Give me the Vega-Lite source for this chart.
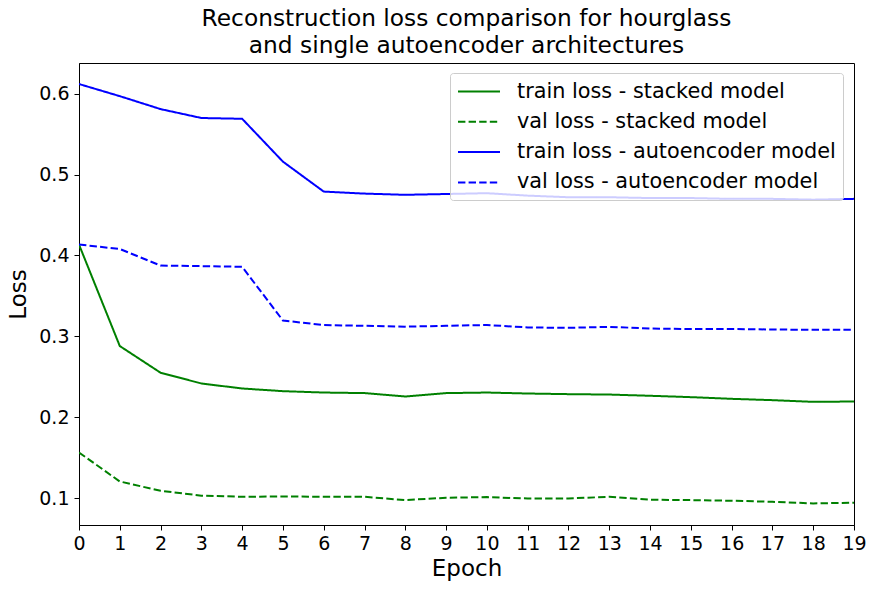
{
  "$schema": "https://vega.github.io/schema/vega-lite/v6.json",
  "width": 775,
  "height": 462,
  "autosize": {"type": "none"},
  "padding": {"left": 79, "top": 63, "right": 22, "bottom": 67},
  "background": "white",
  "config": {
    "font": "DejaVu Sans",
    "view": {"stroke": "black", "strokeWidth": 1},
    "axis": {"grid": false, "domainColor": "black", "tickColor": "black", "labelColor": "black", "titleColor": "black", "labelFont": "DejaVu Sans", "titleFont": "DejaVu Sans", "titleFontWeight": "normal", "tickSize": 5, "labelFontSize": 19, "titleFontSize": 23}
  },
  "title": {
    "text": ["Reconstruction loss comparison for hourglass", "and single autoencoder architectures"],
    "fontSize": 23.3,
    "fontWeight": "normal",
    "font": "DejaVu Sans",
    "color": "black",
    "lineHeight": 27,
    "offset": 5
  },
  "data": {
    "values": [
      {"epoch": 0, "series": "train loss - stacked model", "loss": 0.4135},
      {"epoch": 1, "series": "train loss - stacked model", "loss": 0.288},
      {"epoch": 2, "series": "train loss - stacked model", "loss": 0.255},
      {"epoch": 3, "series": "train loss - stacked model", "loss": 0.2417},
      {"epoch": 4, "series": "train loss - stacked model", "loss": 0.2355},
      {"epoch": 5, "series": "train loss - stacked model", "loss": 0.2322},
      {"epoch": 6, "series": "train loss - stacked model", "loss": 0.2305},
      {"epoch": 7, "series": "train loss - stacked model", "loss": 0.2298},
      {"epoch": 8, "series": "train loss - stacked model", "loss": 0.2256},
      {"epoch": 9, "series": "train loss - stacked model", "loss": 0.2298},
      {"epoch": 10, "series": "train loss - stacked model", "loss": 0.2305},
      {"epoch": 11, "series": "train loss - stacked model", "loss": 0.2293},
      {"epoch": 12, "series": "train loss - stacked model", "loss": 0.2285},
      {"epoch": 13, "series": "train loss - stacked model", "loss": 0.228},
      {"epoch": 14, "series": "train loss - stacked model", "loss": 0.2265},
      {"epoch": 15, "series": "train loss - stacked model", "loss": 0.2248},
      {"epoch": 16, "series": "train loss - stacked model", "loss": 0.2227},
      {"epoch": 17, "series": "train loss - stacked model", "loss": 0.2211},
      {"epoch": 18, "series": "train loss - stacked model", "loss": 0.219},
      {"epoch": 19, "series": "train loss - stacked model", "loss": 0.2194},
      {"epoch": 0, "series": "val loss - stacked model", "loss": 0.1564},
      {"epoch": 1, "series": "val loss - stacked model", "loss": 0.1205},
      {"epoch": 2, "series": "val loss - stacked model", "loss": 0.109},
      {"epoch": 3, "series": "val loss - stacked model", "loss": 0.103},
      {"epoch": 4, "series": "val loss - stacked model", "loss": 0.1016},
      {"epoch": 5, "series": "val loss - stacked model", "loss": 0.102},
      {"epoch": 6, "series": "val loss - stacked model", "loss": 0.1016},
      {"epoch": 7, "series": "val loss - stacked model", "loss": 0.1016},
      {"epoch": 8, "series": "val loss - stacked model", "loss": 0.0975},
      {"epoch": 9, "series": "val loss - stacked model", "loss": 0.1004},
      {"epoch": 10, "series": "val loss - stacked model", "loss": 0.1012},
      {"epoch": 11, "series": "val loss - stacked model", "loss": 0.0995},
      {"epoch": 12, "series": "val loss - stacked model", "loss": 0.0995},
      {"epoch": 13, "series": "val loss - stacked model", "loss": 0.1016},
      {"epoch": 14, "series": "val loss - stacked model", "loss": 0.098},
      {"epoch": 15, "series": "val loss - stacked model", "loss": 0.0975},
      {"epoch": 16, "series": "val loss - stacked model", "loss": 0.0967},
      {"epoch": 17, "series": "val loss - stacked model", "loss": 0.0954},
      {"epoch": 18, "series": "val loss - stacked model", "loss": 0.0934},
      {"epoch": 19, "series": "val loss - stacked model", "loss": 0.0942},
      {"epoch": 0, "series": "train loss - autoencoder model", "loss": 0.612},
      {"epoch": 1, "series": "train loss - autoencoder model", "loss": 0.597},
      {"epoch": 2, "series": "train loss - autoencoder model", "loss": 0.581},
      {"epoch": 3, "series": "train loss - autoencoder model", "loss": 0.570},
      {"epoch": 4, "series": "train loss - autoencoder model", "loss": 0.569},
      {"epoch": 5, "series": "train loss - autoencoder model", "loss": 0.516},
      {"epoch": 6, "series": "train loss - autoencoder model", "loss": 0.479},
      {"epoch": 7, "series": "train loss - autoencoder model", "loss": 0.4765},
      {"epoch": 8, "series": "train loss - autoencoder model", "loss": 0.475},
      {"epoch": 9, "series": "train loss - autoencoder model", "loss": 0.476},
      {"epoch": 10, "series": "train loss - autoencoder model", "loss": 0.477},
      {"epoch": 11, "series": "train loss - autoencoder model", "loss": 0.474},
      {"epoch": 12, "series": "train loss - autoencoder model", "loss": 0.472},
      {"epoch": 13, "series": "train loss - autoencoder model", "loss": 0.472},
      {"epoch": 14, "series": "train loss - autoencoder model", "loss": 0.471},
      {"epoch": 15, "series": "train loss - autoencoder model", "loss": 0.471},
      {"epoch": 16, "series": "train loss - autoencoder model", "loss": 0.470},
      {"epoch": 17, "series": "train loss - autoencoder model", "loss": 0.470},
      {"epoch": 18, "series": "train loss - autoencoder model", "loss": 0.469},
      {"epoch": 19, "series": "train loss - autoencoder model", "loss": 0.470},
      {"epoch": 0, "series": "val loss - autoencoder model", "loss": 0.4135},
      {"epoch": 1, "series": "val loss - autoencoder model", "loss": 0.408},
      {"epoch": 2, "series": "val loss - autoencoder model", "loss": 0.3875},
      {"epoch": 3, "series": "val loss - autoencoder model", "loss": 0.3868},
      {"epoch": 4, "series": "val loss - autoencoder model", "loss": 0.386},
      {"epoch": 5, "series": "val loss - autoencoder model", "loss": 0.3195},
      {"epoch": 6, "series": "val loss - autoencoder model", "loss": 0.314},
      {"epoch": 7, "series": "val loss - autoencoder model", "loss": 0.313},
      {"epoch": 8, "series": "val loss - autoencoder model", "loss": 0.312},
      {"epoch": 9, "series": "val loss - autoencoder model", "loss": 0.313},
      {"epoch": 10, "series": "val loss - autoencoder model", "loss": 0.314},
      {"epoch": 11, "series": "val loss - autoencoder model", "loss": 0.311},
      {"epoch": 12, "series": "val loss - autoencoder model", "loss": 0.3105},
      {"epoch": 13, "series": "val loss - autoencoder model", "loss": 0.3117},
      {"epoch": 14, "series": "val loss - autoencoder model", "loss": 0.3097},
      {"epoch": 15, "series": "val loss - autoencoder model", "loss": 0.309},
      {"epoch": 16, "series": "val loss - autoencoder model", "loss": 0.309},
      {"epoch": 17, "series": "val loss - autoencoder model", "loss": 0.3085},
      {"epoch": 18, "series": "val loss - autoencoder model", "loss": 0.308},
      {"epoch": 19, "series": "val loss - autoencoder model", "loss": 0.308}
    ]
  },
  "mark": {"type": "line", "strokeWidth": 2, "clip": true},
  "encoding": {
    "x": {
      "field": "epoch", "type": "quantitative",
      "scale": {"domain": [0, 19], "nice": false, "zero": false},
      "axis": {"title": "Epoch", "values": [0,1,2,3,4,5,6,7,8,9,10,11,12,13,14,15,16,17,18,19], "format": "d", "labelPadding": 4, "titlePadding": 4, "labelFlush": false}
    },
    "y": {
      "field": "loss", "type": "quantitative",
      "scale": {"domain": [0.0667, 0.638], "nice": false, "zero": false},
      "axis": {"title": "Loss", "values": [0.1, 0.2, 0.3, 0.4, 0.5, 0.6], "format": ".1f", "labelPadding": 5, "titlePadding": 8}
    },
    "color": {
      "field": "series", "type": "nominal",
      "sort": ["train loss - stacked model", "val loss - stacked model", "train loss - autoencoder model", "val loss - autoencoder model"],
      "scale": {
        "domain": ["train loss - stacked model", "val loss - stacked model", "train loss - autoencoder model", "val loss - autoencoder model"],
        "range": ["#008000", "#008000", "#0000ff", "#0000ff"]
      },
      "legend": {
        "title": null,
        "orient": "none",
        "legendX": 371,
        "legendY": 10,
        "symbolType": "M-1,0H3",
        "symbolSize": 441,
        "symbolStrokeWidth": 2,
        "symbolFillColor": "transparent",
        "labelFontSize": 20.8,
        "labelFont": "DejaVu Sans",
        "labelColor": "black",
        "labelOffset": 37,
        "rowPadding": 8.3,
        "padding": 7,
        "strokeColor": "#cccccc",
        "fillColor": "rgba(255,255,255,0.8)",
        "cornerRadius": 3,
        "labelLimit": 400
      }
    },
    "strokeDash": {
      "field": "series", "type": "nominal",
      "sort": ["train loss - stacked model", "val loss - stacked model", "train loss - autoencoder model", "val loss - autoencoder model"],
      "scale": {
        "domain": ["train loss - stacked model", "val loss - stacked model", "train loss - autoencoder model", "val loss - autoencoder model"],
        "range": [[1, 0], [7.4, 3.2], [1, 0], [7.4, 3.2]]
      }
    }
  }
}
